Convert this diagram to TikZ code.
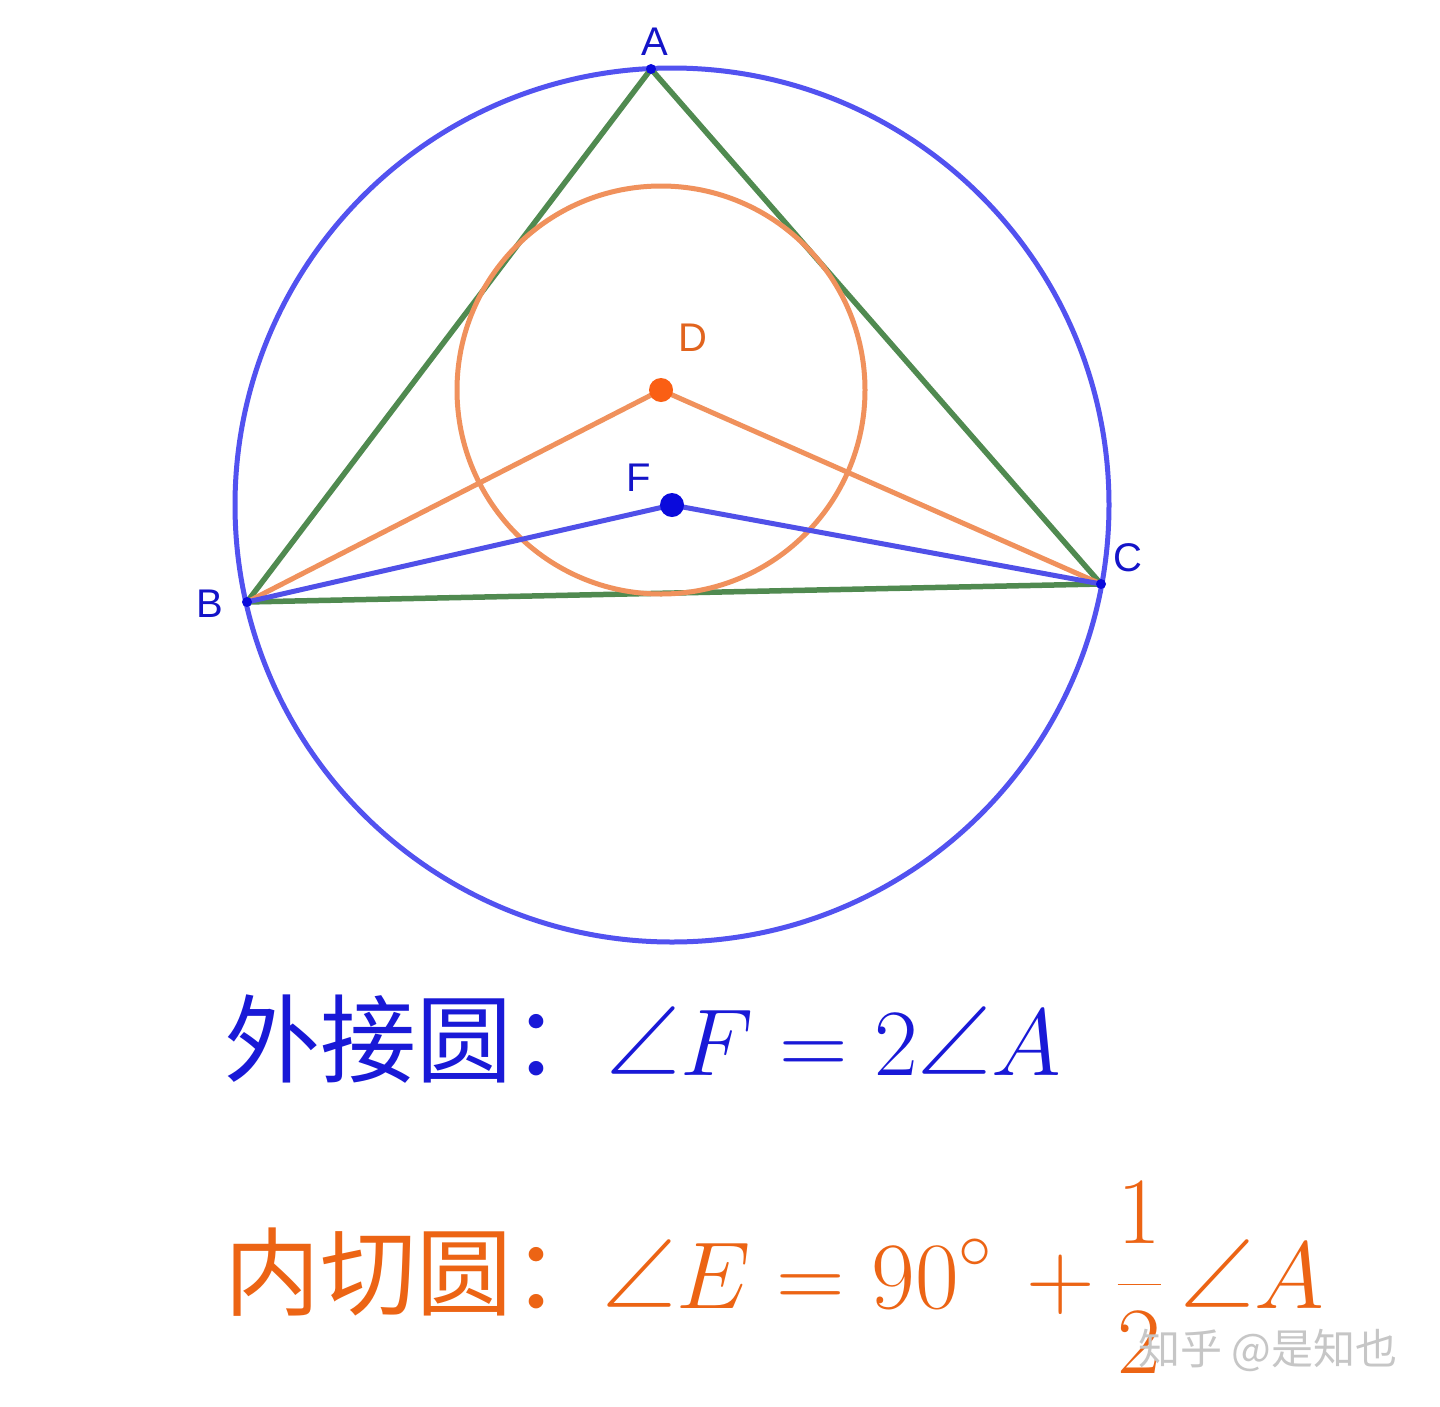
\RequirePackage{fix-cm}
\documentclass[tikz,border=0pt]{standalone}
\usepackage{fontspec}
\newfontfamily\cjk{Noto Sans CJK SC}
\newfontfamily\lab{Liberation Sans}
\newfontfamily\lmm{latinmodern-math.otf}
\newcommand\myang{\mathord{\mbox{\lmm ∠}}}
\definecolor{circblue}{RGB}{82,82,240}
\definecolor{segblue}{RGB}{80,80,232}
\definecolor{tgreen}{RGB}{80,138,80}
\definecolor{incorange}{RGB}{240,145,92}
\definecolor{ptblue}{RGB}{10,10,220}
\definecolor{ptorange}{RGB}{250,95,20}
\definecolor{labblue}{RGB}{20,20,200}
\definecolor{laborange}{RGB}{225,100,30}
\definecolor{txtblue}{RGB}{25,25,215}
\definecolor{txtorange}{RGB}{236,100,20}
\tikzset{
  circline/.style={line width=5pt},
  side/.style={tgreen, line width=5.5pt},
  ptlabel/.style={font=\lab\fontsize{40}{40}\selectfont, inner sep=0pt},
  smalldot/.style={circle, fill=ptblue, inner sep=0pt, minimum size=10pt},
  bigdot/.style={circle, inner sep=0pt, minimum size=24pt},
  cjktext/.style={font=\cjk\fontsize{96}{100}\selectfont, inner sep=0pt, anchor=base west},
  mathtext/.style={font=\fontsize{95}{100}\selectfont, inner sep=0pt, anchor=base west},
}
\begin{document}
\begin{tikzpicture}[x=1pt,y=-1pt]
\useasboundingbox[fill=white] (0,0) rectangle (1440,1406);
% coordinates
\coordinate (A) at (651,69);
\coordinate (B) at (247,602);
\coordinate (C) at (1101,584);
\coordinate (D) at (661,390);
\coordinate (F) at (672,505);
% circumcircle
\draw[circblue, circline] (F) circle[radius=437pt];
% triangle
\draw[side, line join=round] (A) -- (B) -- (C) -- cycle;
% incircle
\draw[incorange, circline] (D) circle[radius=204pt];
% segments
\draw[incorange, line width=5pt, line join=round] (B) -- (D) -- (C);
\draw[segblue, line width=5pt, line join=round] (B) -- (F) -- (C);
% points
\node[smalldot] (pA) at (A) {};
\node[smalldot] (pB) at (B) {};
\node[smalldot] (pC) at (C) {};
\node[bigdot, fill=ptorange] (pD) at (D) {};
\node[bigdot, fill=ptblue] (pF) at (F) {};
% labels
\node[ptlabel, labblue] (lA) at (655,42) {A};
\node[ptlabel, labblue] (lB) at (210,604) {B};
\node[ptlabel, labblue] (lC) at (1128,558) {C};
\node[ptlabel, laborange] (lD) at (693,338) {D};
\node[ptlabel, labblue] (lF) at (639,478) {F};
% formulas
\node[cjktext, txtblue] (t1) at (224,1075) {外接圆：};
\node[mathtext, txtblue] (m1) at (606,1075) {$\myang F = 2\myang A$};
\node[cjktext, txtorange] (t2) at (224,1308) {内切圆：};
\node[mathtext, txtorange] (m2) at (602,1308) {$\displaystyle\myang E = 90^{\circ}\mkern2.5mu + \frac{1}{2}\mkern3.5mu\myang A$};
% watermark
\node[font=\cjk\fontsize{42}{42}\selectfont, text=gray!45, inner sep=0pt, anchor=base west] (wm) at (1138,1364) {知乎 @是知也};
\end{tikzpicture}
\end{document}
